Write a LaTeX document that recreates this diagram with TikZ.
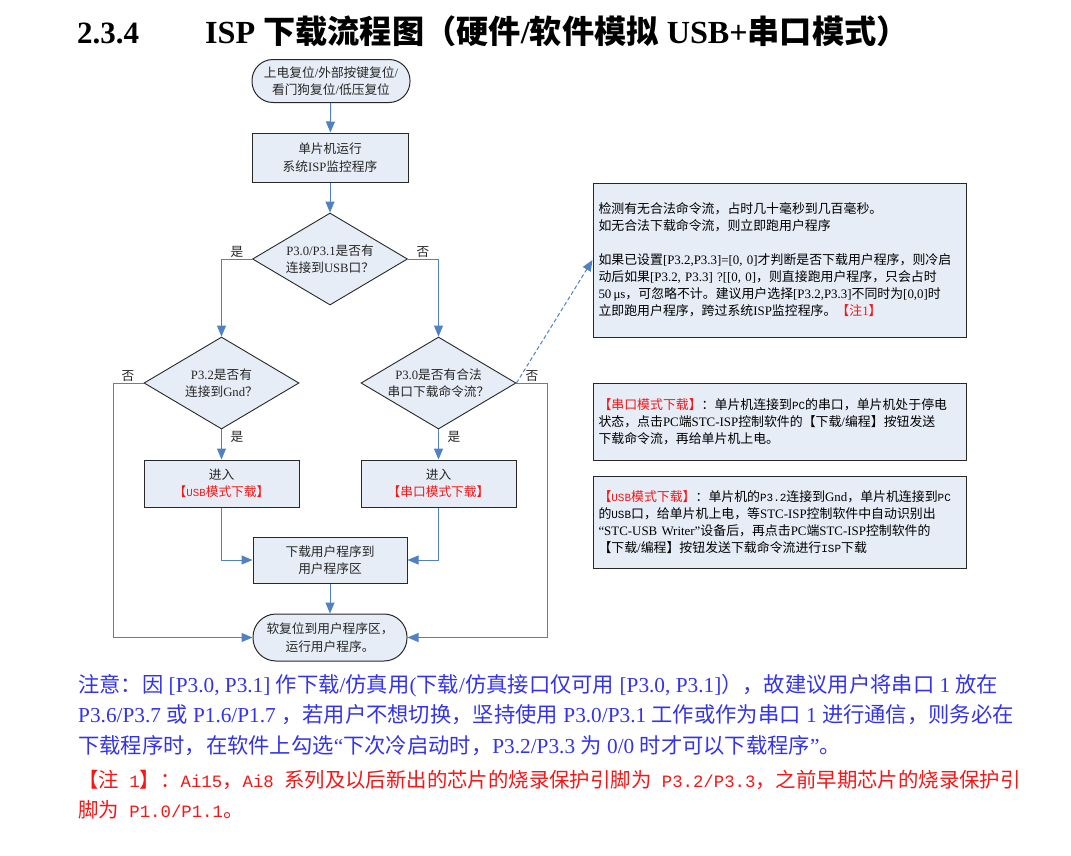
\documentclass[tikz,border=0pt]{standalone}
\usepackage{fontspec}
\setmainfont{Liberation Serif}
\setmonofont{Liberation Mono}[Scale=0.85]
\newfontfamily\cjkfont{Noto Sans CJK SC}
\usetikzlibrary{arrows.meta, positioning, shapes.geometric}

\definecolor{flowblue}{RGB}{79,129,196}
\definecolor{boxfill}{RGB}{230,237,247}
\definecolor{noteblue}{RGB}{51,51,238}
\definecolor{notered}{RGB}{250,20,20}
\definecolor{edgegray}{RGB}{40,40,40}

% switch to the CJK face between Latin runs
\newXeTeXintercharclass\cjkclass
\newcount\cjkc
\cjkc=0
\loop \XeTeXcharclass\cjkc=0 \advance\cjkc by 1 \ifnum\cjkc<"3000 \repeat
\cjkc="3000
\loop \XeTeXcharclass\cjkc=\cjkclass \advance\cjkc by 1 \ifnum\cjkc<"3040 \repeat
\cjkc="4E00
\loop \XeTeXcharclass\cjkc=\cjkclass \advance\cjkc by 1 \ifnum\cjkc<"A000 \repeat
\cjkc="FF00
\loop \XeTeXcharclass\cjkc=\cjkclass \advance\cjkc by 1 \ifnum\cjkc<"FFF0 \repeat
\let\backtolatin\rmfamily
\XeTeXinterchartoks 0 \cjkclass = {\cjkfont}
\XeTeXinterchartoks 4095 \cjkclass = {\cjkfont}
\XeTeXinterchartoks \cjkclass 0 = {\backtolatin}
\XeTeXinterchartoks \cjkclass 4095 = {\backtolatin}
\newcommand\hw[1]{{\let\backtolatin\ttfamily\ttfamily #1}}

\begin{document}
\XeTeXinterchartokenstate=1
\begin{tikzpicture}[x=1pt, y=-1pt,
    >={Triangle[length=11pt, width=9pt]},
    flowtext/.style={font=\fontsize{12.7}{17.5}\selectfont, text=black!85},
    procbox/.style={draw=edgegray, line width=1pt, fill=boxfill, flowtext, minimum width=155pt, minimum height=47pt, align=center, inner sep=2pt},
    termbox/.style={procbox, rounded corners=21pt, minimum height=43pt},
    decide/.style={diamond, draw=edgegray, line width=0.9pt, fill=boxfill, flowtext, minimum width=155pt, minimum height=92pt, aspect=1.66, inner sep=-8pt, align=center},
    notebox/.style={draw=edgegray, line width=1pt, fill=boxfill, font=\fontsize{12.9}{17}\selectfont, text width=362pt, inner xsep=5.5pt, align=left},
    flow/.style={->, draw=flowblue, line width=1pt},
    tag/.style={font=\fontsize{12.7}{15}\selectfont, text=black!85},
    headline/.style={anchor=base west, inner sep=0pt, font=\fontsize{31}{36}\selectfont\bfseries}
]
  \useasboundingbox (0,0) rectangle (1071,855);

  % title
  \node[headline] (secnum) at (77,43) {2.3.4};
  \node[headline, font=\fontsize{32.2}{36}\selectfont\bfseries] (title) at (205,43) {ISP 下载流程图（硬件/软件模拟 USB+串口模式）};

  % flow chart
  \node[termbox, minimum width=158pt] (reset) at (331,81) {上电复位/外部按键复位/\\看门狗复位/低压复位};
  \node[procbox, minimum width=156pt, minimum height=49pt] (ispmon) at (330,157.5) {单片机运行\\系统ISP监控程序};
  \node[decide] (qusb) at (330,259) {P3.0/P3.1是否有\\连接到USB口？};
  \node[decide] (qgnd) at (221.5,383) {P3.2是否有\\连接到Gnd？};
  \node[decide] (qcmd) at (438.5,383) {P3.0是否有合法\\串口下载命令流？};
  \node[procbox] (usbmode) at (221.5,483.5) {进入\\{\color{notered}【\hw{USB}模式下载】}};
  \node[procbox] (uartmode) at (438.5,483.5) {进入\\{\color{notered}【串口模式下载】}};
  \node[procbox, minimum width=154pt, minimum height=46pt] (dlprog) at (330,560) {下载用户程序到\\用户程序区};
  \node[termbox, minimum width=154pt, minimum height=47pt, rounded corners=23pt] (runuser) at (330,637.5) {软复位到用户程序区，\\运行用户程序。};

  \node[tag] (yesA) at (237,252) {是};
  \node[tag] (noA) at (423,252) {否};
  \node[tag] (noB) at (128,376) {否};
  \node[tag] (noC) at (532,376) {否};
  \node[tag] (yesB) at (237,437) {是};
  \node[tag] (yesC) at (454,437) {是};

  \coordinate (leftrail) at (113,383);
  \coordinate (rightrail) at (547,383);

  \draw[flow] (reset) -- (ispmon);
  \draw[flow] (ispmon) -- (qusb);
  \draw[flow] (qusb.west) -| (qgnd.north);
  \draw[flow] (qusb.east) -| (qcmd.north);
  \draw[flow] (qgnd) -- (usbmode);
  \draw[flow] (qcmd) -- (uartmode);
  \draw[flow] (usbmode.south) |- (dlprog.west);
  \draw[flow] (uartmode.south) |- (dlprog.east);
  \draw[flow] (dlprog) -- (runuser);
  \draw[flow] (qgnd.west) -- (leftrail) |- (runuser.west);
  \draw[flow] (qcmd.east) -- (rightrail) |- (runuser.east);

  % side notes
  \node[notebox, minimum height=154pt] (noteA) at (779.5,260) {检测有无合法命令流，占时几十毫秒到几百毫秒。\\
    如无合法下载命令流，则立即跑用户程序\\[17pt]
    如果已设置[P3.2,P3.3]=[0, 0]才判断是否下载用户程序，则冷启\\
    动后如果[P3.2, P3.3] ?[[0, 0]，则直接跑用户程序，只会占时\\
    50\,μs，可忽略不计。建议用户选择[P3.2,P3.3]不同时为[0,0]时\\
    立即跑用户程序，跨过系统ISP监控程序。{\color{notered}【注1】}};
  \node[notebox, minimum height=77pt] (noteB) at (779.5,421.5) {{\color{notered}【串口模式下载】}：单片机连接到\hw{PC}的串口，单片机处于停电\\
    状态，点击PC端STC-ISP控制软件的【下载/编程】按钮发送\\
    下载命令流，再给单片机上电。};
  \node[notebox, minimum height=92pt] (noteC) at (779.5,522) {{\color{notered}【\hw{USB}模式下载】}：单片机的\hw{P3.2}连接到Gnd，单片机连接到\hw{PC}\\
    的\hw{USB}口，给单片机上电，等STC-ISP控制软件中自动识别出\\
    “STC-USB Writer”设备后，再点击PC端STC-ISP控制软件的\\
    【下载/编程】按钮发送下载命令流进行\hw{ISP}下载};

  \draw[flow, dash pattern=on 4pt off 2.5pt] (qcmd.east) -- (noteA.west);

  % notes under the chart (base = last line)
  \node[anchor=base west, inner sep=0pt, align=left, text=noteblue, font=\fontsize{21.3}{30.5}\selectfont] (notice) at (78,753) {注意：因 [P3.0, P3.1] 作下载/仿真用(下载/仿真接口仅可用 [P3.0, P3.1]），故建议用户将串口 1 放在\\
    P3.6/P3.7 或 P1.6/P1.7 ，若用户不想切换，坚持使用 P3.0/P3.1 工作或作为串口 1 进行通信，则务必在\\
    下载程序时，在软件上勾选“下次冷启动时，P3.2/P3.3 为 0/0 时才可以下载程序”。};
  \node[anchor=base west, inner sep=0pt, align=left, text=notered, font=\fontsize{20.4}{30}\selectfont\let\backtolatin\ttfamily] (pinnote) at (78,817) {【注 1】：Ai15，Ai8 系列及以后新出的芯片的烧录保护引脚为 P3.2/P3.3，之前早期芯片的烧录保护引\\
    脚为 P1.0/P1.1。};
\end{tikzpicture}
\end{document}
